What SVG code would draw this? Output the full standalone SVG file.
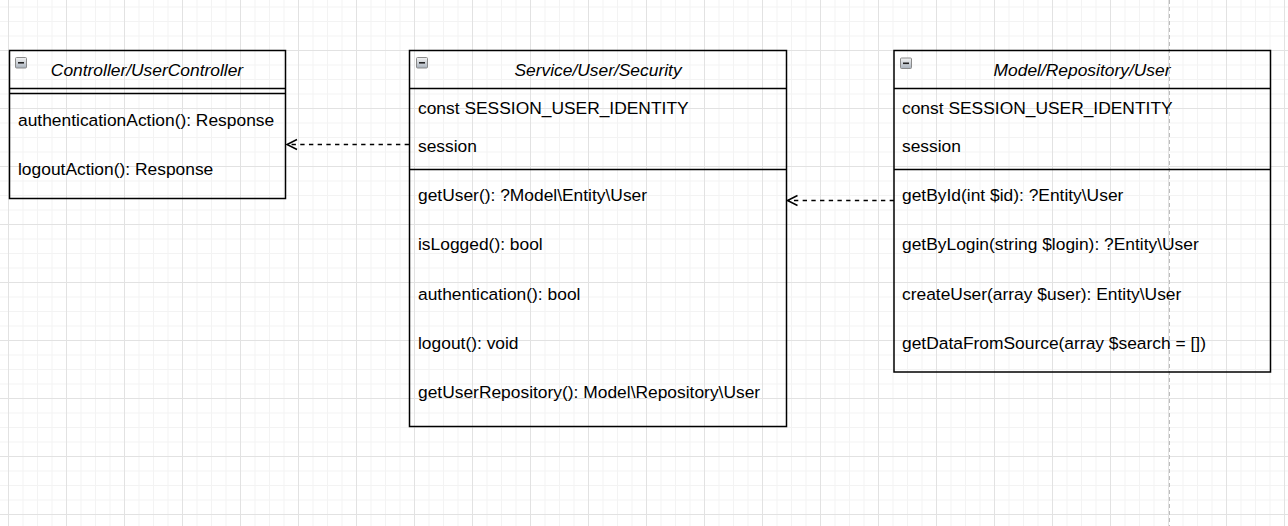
<svg xmlns="http://www.w3.org/2000/svg" width="1288" height="526" viewBox="0 0 1288 526">
<style>
.box{fill:none;stroke:#000;stroke-width:1.5}
.sep{stroke:#000;stroke-width:1.5}
.t{font-family:"Liberation Sans",Arial,sans-serif;font-size:17.4px;fill:#000}
.h{font-style:italic;text-anchor:middle}
.conn{fill:none;stroke:#000;stroke-width:1.5;stroke-dasharray:4.35 4.35}
.icon{fill:url(#ig);stroke:#8a8a8a;stroke-width:1}
.minus{stroke:#222;stroke-width:1.6}
</style>
<defs>
<linearGradient id="ig" x1="0" y1="0" x2="0" y2="1">
<stop offset="0" stop-color="#f4f4f4"/>
<stop offset="1" stop-color="#a9b2bd"/>
</linearGradient>
<pattern id="minor" width="14.5" height="14.5" patternUnits="userSpaceOnUse" x="8" y="50">
<path d="M0.5 0V14.5M0 0.5H14.5" stroke="#f3f3f3" stroke-width="1" fill="none"/>
</pattern>
<pattern id="major" width="58" height="58" patternUnits="userSpaceOnUse" x="8" y="50">
<path d="M0.5 0V58M0 0.5H58" stroke="#e2e2e2" stroke-width="1" fill="none"/>
</pattern>
<marker id="open" markerWidth="14" markerHeight="14" refX="11" refY="6" orient="auto" markerUnits="userSpaceOnUse">
<path d="M1 1L11 6L1 11" fill="none" stroke="#000" stroke-width="1.5"/>
</marker>
</defs>
<rect width="1288" height="526" fill="#fff"/>
<rect width="1288" height="526" fill="url(#minor)"/>
<rect width="1288" height="526" fill="url(#major)"/>
<line x1="1169.5" y1="0" x2="1169.5" y2="526" stroke="#bdbdbd" stroke-width="1" stroke-dasharray="4 3"/>

<g id="connectors">
<path class="conn" d="M409 144.5H287" marker-end="url(#open)"/>
<path class="conn" d="M894 200.5H787.5" marker-end="url(#open)"/>
</g>

<g id="controller">
<rect class="box" x="9.5" y="50.5" width="276" height="148"/>
<line class="sep" x1="9.5" y1="88.5" x2="285.5" y2="88.5"/>
<line class="sep" x1="9.5" y1="93.5" x2="285.5" y2="93.5"/>
<rect class="icon" x="15.5" y="57.5" width="11" height="10.5" rx="1"/>
<line class="minus" x1="18" y1="62.8" x2="24" y2="62.8"/>
<text class="t h" x="147" y="76">Controller/UserController</text>
<text class="t" x="18" y="126">authenticationAction(): Response</text>
<text class="t" x="18" y="175">logoutAction(): Response</text>
</g>

<g id="security">
<rect class="box" x="409.5" y="50.5" width="377" height="376"/>
<line class="sep" x1="409.5" y1="88.5" x2="786.5" y2="88.5"/>
<line class="sep" x1="409.5" y1="169.5" x2="786.5" y2="169.5"/>
<rect class="icon" x="416.5" y="57.5" width="11" height="10.5" rx="1"/>
<line class="minus" x1="419" y1="62.8" x2="425" y2="62.8"/>
<text class="t h" x="598" y="76">Service/User/Security</text>
<text class="t" x="418" y="114">const SESSION_USER_IDENTITY</text>
<text class="t" x="418" y="152">session</text>
<text class="t" x="418" y="201">getUser(): ?Model\Entity\User</text>
<text class="t" x="418" y="250">isLogged(): bool</text>
<text class="t" x="418" y="300">authentication(): bool</text>
<text class="t" x="418" y="349">logout(): void</text>
<text class="t" x="418" y="398">getUserRepository(): Model\Repository\User</text>
</g>

<g id="repository">
<rect class="box" x="894" y="50.5" width="376.5" height="321.5"/>
<line class="sep" x1="894" y1="88.5" x2="1270.5" y2="88.5"/>
<line class="sep" x1="894" y1="169.5" x2="1270.5" y2="169.5"/>
<rect class="icon" x="900.5" y="58" width="11" height="10.5" rx="1"/>
<line class="minus" x1="903" y1="63.3" x2="909" y2="63.3"/>
<text class="t h" x="1082" y="76">Model/Repository/User</text>
<text class="t" x="902" y="114">const SESSION_USER_IDENTITY</text>
<text class="t" x="902" y="152">session</text>
<text class="t" x="902" y="201">getById(int $id): ?Entity\User</text>
<text class="t" x="902" y="250">getByLogin(string $login): ?Entity\User</text>
<text class="t" x="902" y="300">createUser(array $user): Entity\User</text>
<text class="t" x="902" y="349">getDataFromSource(array $search = [])</text>
</g>
</svg>
